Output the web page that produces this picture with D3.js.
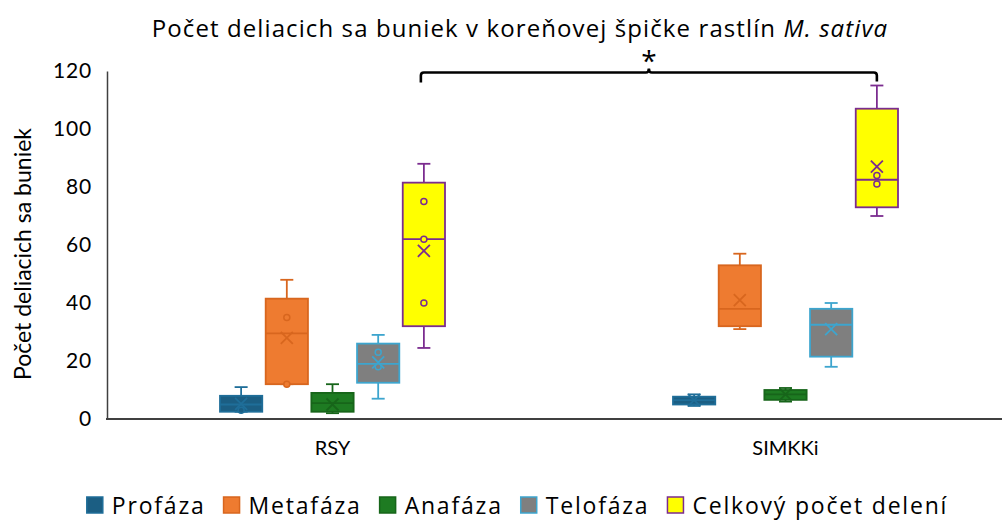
<!DOCTYPE html>
<html><head><meta charset="utf-8">
<script src="https://cdn.jsdelivr.net/npm/d3@7"></script>
<style>body{margin:0;background:#fff}svg{display:block}</style>
</head><body><svg id="c" width="1004" height="521"></svg>
<script>
const groups = ["RSY", "SIMKKi"];
const series = ["Profáza", "Metafáza", "Anafáza", "Telofáza", "Celkový počet delení"];
// per series: [RSY, SIMKKi]
const minVals    = [[2.5, 4.5], [12, 31], [2, 6], [7, 18], [24.5, 70]];
const q1Vals     = [[2.5, 5], [12, 32], [2.5, 6.6], [12.5, 21.5], [32, 73]];
const medianVals = [[5, 6.5], [29.5, 38], [5.5, 8.5], [19, 32.5], [62, 82.5]];
const q3Vals     = [[8, 7.7], [41.5, 53], [9, 10], [26, 38], [81.5, 107]];
const maxVals    = [[11, 8.5], [48, 57], [12, 10.7], [29, 40], [88, 115]];
const meanVals   = [[5.2, 6.5], [28, 41], [5, 8.5], [19.5, 31], [58, 87]];
const innerPoints = [[[3], []], [[35, 12], []], [[], []], [[23, 18], []], [[75, 62, 40], [84, 81]]];
const yTicks = [0, 20, 40, 60, 80, 100, 120];
const fills   = ["#1B5E83", "#EE7B30", "#1E7B22", "#7F7F7F", "#FFFF00"];
const strokes = ["#1F6E99", "#D8661E", "#17651A", "#3DA5CE", "#7B2C8F"];
const signifLevel = 119.5;

const svg = d3.select("#c");
const x0 = d3.scaleBand().domain(groups).range([106, 1012]);
const x1 = d3.scaleBand().domain(series).range([-112.5, 112.5]).paddingInner(0.075);
const y = d3.scaleLinear().domain([0, 120]).range([419, 71]);
const bw = x1.bandwidth();

// title
const title = svg.append("text").attr("x", 520).attr("y", 37).attr("text-anchor", "middle")
  .style("font-family", "'Open Sans'").style("font-size", "24px").style("letter-spacing", "1.1px").attr("fill", "#000");
title.append("tspan").text("Počet deliacich sa buniek v koreňovej špičke rastlín ");
title.append("tspan").style("font-style", "italic").text("M. sativa");

// y axis
const yAxis = svg.append("g").attr("transform", "translate(107,0)")
  .call(d3.axisLeft(y).tickValues(yTicks).tickSize(0).tickPadding(15));
yAxis.select(".domain").attr("stroke", "#404040").attr("stroke-width", 1.5);
yAxis.selectAll("text").style("font-family", "Lato").style("font-size", "21px").style("letter-spacing", "0.8px").attr("fill", "#000");

// x axis
const xAxis = svg.append("g").attr("transform", "translate(0,419)")
  .call(d3.axisBottom(x0).tickSize(0).tickPadding(22));
xAxis.select(".domain").remove();
svg.append("line").attr("x1", 106).attr("x2", 1002).attr("y1", 419).attr("y2", 419)
  .attr("stroke", "#404040").attr("stroke-width", 2);
xAxis.selectAll("text").style("font-family", "Lato").style("font-size", "20px").attr("fill", "#000");

// y label
svg.append("text").attr("transform", "translate(31,254) rotate(-90)").attr("text-anchor", "middle")
  .style("font-family", "Lato").style("font-size", "23px").text("Počet deliacich sa buniek");

// boxes
series.forEach((s, si) => {
  groups.forEach((g, gi) => {
    const cx = x0(g) + x0.bandwidth() / 2 + x1(s) + bw / 2;
    const left = cx - bw / 2;
    const gEl = svg.append("g");
    const st = strokes[si];
    gEl.append("line").attr("x1", cx).attr("x2", cx).attr("y1", y(q3Vals[si][gi])).attr("y2", y(maxVals[si][gi]))
      .attr("stroke", st).attr("stroke-width", 1.8);
    gEl.append("line").attr("x1", cx).attr("x2", cx).attr("y1", y(q1Vals[si][gi])).attr("y2", y(minVals[si][gi]))
      .attr("stroke", st).attr("stroke-width", 1.8);
    [maxVals[si][gi], minVals[si][gi]].forEach(v => {
      gEl.append("line").attr("x1", cx - 6.5).attr("x2", cx + 6.5).attr("y1", y(v)).attr("y2", y(v))
        .attr("stroke", st).attr("stroke-width", 1.8);
    });
    gEl.append("rect").attr("x", left).attr("width", bw)
      .attr("y", y(q3Vals[si][gi])).attr("height", Math.max(1, y(q1Vals[si][gi]) - y(q3Vals[si][gi])))
      .attr("fill", fills[si]).attr("stroke", st).attr("stroke-width", 1.8);
    gEl.append("line").attr("x1", left).attr("x2", left + bw).attr("y1", y(medianVals[si][gi])).attr("y2", y(medianVals[si][gi]))
      .attr("stroke", st).attr("stroke-width", 1.8);
    innerPoints[si][gi].forEach(v => {
      gEl.append("circle").attr("cx", cx).attr("cy", y(v)).attr("r", 3)
        .attr("fill", fills[si]).attr("stroke", st).attr("stroke-width", 1.5);
    });
    const my = y(meanVals[si][gi]);
    gEl.append("path").attr("d", `M${cx-6},${my-6}L${cx+6},${my+6}M${cx-6},${my+6}L${cx+6},${my-6}`)
      .attr("stroke", st).attr("stroke-width", 1.8).attr("fill", "none");
  });
});

// significance bracket
const bx1 = x0("RSY") + x0.bandwidth() / 2 + x1(series[4]) + bw / 2 - 3;
const bx2 = x0("SIMKKi") + x0.bandwidth() / 2 + x1(series[4]) + bw / 2;
const by = y(signifLevel);
const bmid = (bx1 + bx2) / 2;
svg.append("path")
  .attr("d", `M${bx1},${by+10}L${bx1},${by+3}Q${bx1},${by} ${bx1+3},${by}L${bmid-3},${by}Q${bmid},${by} ${bmid},${by-4}Q${bmid},${by} ${bmid+3},${by}L${bx2-3},${by}Q${bx2},${by} ${bx2},${by+3}L${bx2},${by+9}`)
  .attr("fill", "none").attr("stroke", "#000").attr("stroke-width", 2.6);
svg.append("text").attr("x", bmid).attr("y", by - 1).attr("text-anchor", "middle")
  .style("font-family", "'Open Sans'").style("font-size", "28px").text("*");

// legend
const legend = svg.append("g");
let lx = 0;
series.forEach((s, si) => {
  const it = legend.append("g").attr("transform", `translate(${lx},0)`);
  it.append("rect").attr("x", 1).attr("y", -10).attr("width", 16).attr("height", 16)
    .attr("fill", fills[si]).attr("stroke", strokes[si]).attr("stroke-width", 1.5);
  const t = it.append("text").attr("x", 26).attr("y", 7)
    .style("font-family", "'Open Sans'").style("font-size", "23px").style("letter-spacing", "1.8px").text(s);
  lx += 26 + t.node().getComputedTextLength() + 17;
});
const lw = lx - 17;
legend.attr("transform", `translate(${517 - lw / 2},507)`);
</script></body></html>
